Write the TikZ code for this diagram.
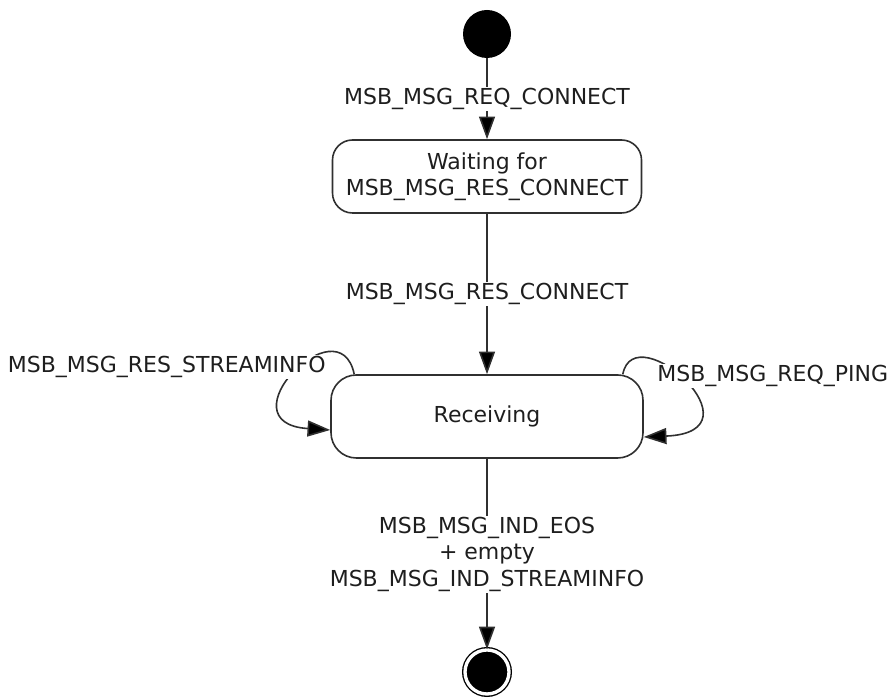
\documentclass[tikz,border=0pt]{standalone}
\usepackage{fontspec}
\setmainfont{DejaVu Sans}
\usetikzlibrary{calc}
\usetikzlibrary{math}
\usetikzlibrary{arrows.meta}

\begin{document}
\begin{tikzpicture}[x=0.75pt, y=0.75pt]
    \definecolor{lineGrey}{RGB}{48, 48, 48}
    \definecolor{textGrey}{RGB}{30, 30, 30}
    
    \tikzmath {
        \dStartWait = 142.5;
        \dWaitRecv = 240;
        \dRecvEnd = 255.5;
    }
    
    \tikzstyle{init}=[shape=circle, fill=black, minimum size=36pt, inner sep=0pt]
    \tikzstyle{final}=[shape=circle, draw, fill=black, double=white, double distance=2.5pt, line width=1pt, minimum size=33pt, inner sep=0pt]
    \tikzstyle{state}=[shape=rectangle, draw=lineGrey, line width=1.2pt, align=center, text=textGrey, font=\fontsize{16.5}{19.5}\selectfont]
    \tikzstyle{lbl}=[fill=white, inner sep=1pt, align=center, text=textGrey, font=\fontsize{16.5}{19.8}\selectfont]
    \tikzstyle{trans}=[draw=lineGrey, line width=1.2pt, -{Triangle[length=17pt, width=12pt, fill=black]}]
    
    \useasboundingbox (0,0) rectangle (893,698);
    
    \coordinate (start_c) at (487, 664);
    \node[init] (start) at (start_c) {};
    
    \coordinate (waiting_c) at ($(start_c) - (0, \dStartWait)$);
    \node[state, rounded corners=15pt, minimum width=231.75pt, minimum height=54.75pt] (waiting) at (waiting_c) {Waiting for\\MSB\_MSG\_RES\_CONNECT};
    
    \coordinate (receiving_c) at ($(waiting_c) - (0, \dWaitRecv)$);
    \node[state, rounded corners=19pt, minimum width=234pt, minimum height=62.25pt] (receiving) at (receiving_c) {Receiving};
    
    \coordinate (final_c) at ($(receiving_c) - (0, \dRecvEnd)$);
    \node[final] (final) at (final_c) {};
    
    \draw[trans] (start) -- node[lbl] (req_connect_lbl) {MSB\_MSG\_REQ\_CONNECT} (waiting);
    \draw[trans] (waiting) -- node[lbl] (res_connect_lbl) {MSB\_MSG\_RES\_CONNECT} (receiving);
    
    % self loops on Receiving
    \coordinate (loopL_out) at ($(receiving.north west) + (24, 0)$);
    \coordinate (loopL_in) at ($(receiving.west) + (0, -13.5)$);
    \draw[trans] (loopL_out) .. controls +(-15, 72) and +(-109, 7) .. (loopL_in);
    
    \coordinate (loopR_out) at ($(receiving.north east) + (-21, 0)$);
    \coordinate (loopR_in) at ($(receiving.east) + (0, -20.5)$);
    \draw[trans] (loopR_out) .. controls +(12, 60) and +(122, 5) .. (loopR_in);
    
    \node[lbl, anchor=east] (streaminfo_lbl) at ($(receiving.north west) + (-3, 7)$) {MSB\_MSG\_RES\_STREAMINFO};
    \node[lbl, anchor=west] (ping_lbl) at ($(receiving.north east) + (12, -2)$) {MSB\_MSG\_REQ\_PING};
    
    \draw[trans] (receiving) -- node[lbl] (eos_lbl) {MSB\_MSG\_IND\_EOS\\+ empty\\MSB\_MSG\_IND\_STREAMINFO} (final);
\end{tikzpicture}
\end{document}
